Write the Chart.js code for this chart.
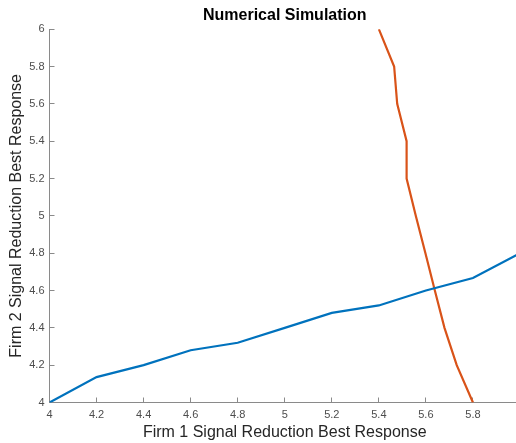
<!DOCTYPE html>
<html>
<head>
<meta charset="utf-8">
<script src="https://cdn.jsdelivr.net/npm/chart.js@4"></script>
<style>
  html, body { margin: 0; padding: 0; background: #fff; overflow: hidden; }
  #wrap { width: 531px; height: 443px; }
</style>
</head>
<body>
<div id="wrap"><canvas id="sim" width="531" height="443"></canvas></div>
<script>
// firm 1 best response (blue) and firm 2 best response (orange)
const blueX = [4, 4.2, 4.4, 4.6, 4.8, 5, 5.2, 5.4, 5.6, 5.8, 6];
const blueY = [4, 4.136, 4.2, 4.28, 4.32, 4.4, 4.48, 4.52, 4.6, 4.667, 4.8];

const orangeX = [5.4, 5.465, 5.478, 5.518, 5.518, 5.557, 5.598, 5.638, 5.679, 5.731, 5.8];
const orangeY = [6, 5.8, 5.6, 5.4, 5.2, 5, 4.8, 4.6, 4.4, 4.2, 4];

const tickFont = { family: "'Liberation Sans', Arial, Helvetica, sans-serif", size: 11 };
const labelFont = { family: "'Liberation Sans', Arial, Helvetica, sans-serif", size: 16 };

function pts(xs, ys) {
    return xs.map((x, i) => ({ x: x, y: ys[i] }));
}

function fmt(v) {
    return Number(v.toFixed(1)).toString();
}

// the x=6 end sits just past the right edge of the window, like the reference
new Chart(document.getElementById("sim"), {
    type: "scatter",
    data: {
        datasets: [
            {
                data: pts(blueX, blueY),
                showLine: true,
                borderColor: "#0072BD",
                borderWidth: 2.2,
                pointRadius: 0,
                tension: 0,
            },
            {
                data: pts(orangeX, orangeY),
                showLine: true,
                borderColor: "#D95319",
                borderWidth: 2.2,
                pointRadius: 0,
                tension: 0,
            },
        ],
    },
    options: {
        responsive: false,
        animation: false,
        events: [],
        layout: { padding: 0 },
        plugins: {
            legend: { display: false },
            tooltip: { enabled: false },
            title: {
                display: true,
                text: "Numerical Simulation",
                fullSize: false,
                color: "#000",
                font: { family: labelFont.family, size: 16, weight: "bold" },
                padding: { top: 6, bottom: 4 },
            },
        },
        scales: {
            x: {
                type: "linear",
                min: 4,
                max: 6,
                afterFit: (s) => { s.height = 40.5; },
                border: { color: "#8a8a8a", width: 1 },
                grid: { drawOnChartArea: false, drawTicks: true, tickLength: -5, color: "#8a8a8a" },
                ticks: {
                    stepSize: 0.2,
                    autoSkip: false,
                    maxRotation: 0,
                    padding: 11,
                    color: "#4d4d4d",
                    font: tickFont,
                    callback: (v) => (Math.abs(v - 6) < 1e-6 ? "" : fmt(v)),
                },
                title: {
                    display: true,
                    text: "Firm 1 Signal Reduction Best Response",
                    color: "#262626",
                    font: labelFont,
                    padding: { top: 0, bottom: 0.5 },
                },
            },
            y: {
                type: "linear",
                min: 4,
                max: 6,
                afterFit: (s) => { s.width = 49.5; },
                border: { color: "#8a8a8a", width: 1 },
                grid: { drawOnChartArea: false, drawTicks: true, tickLength: -5, color: "#8a8a8a" },
                ticks: {
                    stepSize: 0.2,
                    autoSkip: false,
                    padding: 10,
                    color: "#4d4d4d",
                    font: tickFont,
                    callback: (v) => fmt(v),
                },
                title: {
                    display: true,
                    text: "Firm 2 Signal Reduction Best Response",
                    color: "#262626",
                    font: labelFont,
                    padding: { top: 7, bottom: 0 },
                },
            },
        },
    },
});
</script>
</body>
</html>
